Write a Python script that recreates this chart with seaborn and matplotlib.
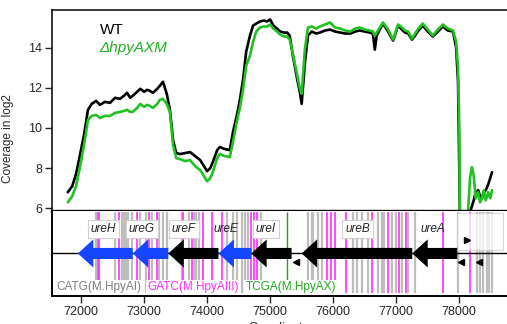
import numpy as np
import pandas as pd
import seaborn as sns
import matplotlib
matplotlib.use("Agg")
from matplotlib import pyplot as plt
from matplotlib.patches import Rectangle

# coverage (log2)
coord = [71790, 71860, 71920, 71980, 72050, 72110, 72170, 72240, 72300, 72380,
         72460, 72540, 72620, 72680, 72730, 72780, 72820, 72890, 72940, 73000,
         73050, 73090, 73140, 73210, 73250, 73300, 73360, 73410, 73460, 73510,
         73570, 73650, 73730, 73810, 73890, 73950, 74000, 74050, 74090, 74160,
         74200, 74280, 74360, 74410, 74470, 74520, 74570, 74620, 74680, 74730,
         74780, 74840, 74900, 74950, 75000, 75050, 75090, 75160, 75220, 75270,
         75310, 75360, 75430, 75470, 75500, 75550, 75600, 75660, 75730, 75790,
         75870, 75950, 76030, 76110, 76190, 76270, 76350, 76420, 76500, 76580,
         76630, 76660, 76690, 76740, 76790, 76870, 76950, 77030, 77090, 77140,
         77190, 77250, 77300, 77340, 77420, 77500, 77580, 77660, 77740, 77820,
         77900, 77950, 77980, 78000, 78010, 78090, 78140, 78170, 78200, 78230,
         78260, 78300, 78330, 78360, 78390, 78420, 78460, 78490, 78520]
wt = [6.8, 7.1, 7.7, 8.6, 9.7, 10.9, 11.2, 11.35, 11.15, 11.3,
      11.25, 11.5, 11.45, 11.6, 11.75, 11.5, 11.6, 11.8, 11.95, 11.8,
      11.9, 11.85, 11.75, 11.95, 12.1, 12.3, 11.7, 10.9, 9.4, 8.75,
      8.7, 8.75, 8.8, 8.6, 8.4, 8.1, 7.85, 8.0, 8.3, 8.9,
      9.05, 8.95, 8.9, 9.8, 10.6, 11.4, 12.4, 13.8, 14.6, 15.1,
      15.2, 15.3, 15.35, 15.3, 15.4, 15.1, 15.0, 14.8, 14.75, 14.75,
      14.6, 13.6, 12.4, 11.8, 11.2, 13.2, 14.6, 14.8, 14.7, 14.75,
      14.85, 14.9, 14.8, 14.75, 14.7, 14.7, 14.8, 14.85, 14.8, 14.75,
      14.7, 13.9, 14.6, 14.9, 15.2, 14.8, 14.35, 15.1, 14.9, 14.75,
      14.7, 14.4, 14.6, 14.8, 15.1, 14.8, 14.55, 14.8, 15.05, 14.85,
      14.8, 14.0, 12.3, 8.0, 5.5, 5.4, 5.5, 5.8, 6.1, 6.4,
      6.8, 6.9, 6.6, 6.5, 6.8, 6.9, 7.2, 7.5, 7.8]
mutant = [6.3, 6.6, 7.1, 8.0, 9.2, 10.4, 10.6, 10.65, 10.5, 10.6,
          10.6, 10.75, 10.8, 10.85, 10.9, 10.8, 10.8, 11.0, 11.2, 11.05,
          11.15, 11.1, 11.0, 11.2, 11.4, 11.45, 11.2, 10.8, 9.15, 8.5,
          8.45, 8.35, 8.4, 8.1, 7.9, 7.6, 7.35, 7.5, 7.8, 8.5,
          8.7, 8.6, 8.55, 9.3, 10.3, 11.0, 11.9, 13.1, 13.6, 14.3,
          14.8, 15.0, 15.05, 15.05, 15.15, 14.95, 14.85, 14.65, 14.55, 14.55,
          14.4, 13.7, 12.6, 12.0, 11.7, 13.9, 15.0, 15.05, 14.95, 15.05,
          15.15, 15.25, 15.0, 14.95, 14.85, 14.8, 14.95, 15.0, 14.9, 14.85,
          14.8, 14.6, 14.75, 15.0, 15.25, 14.9, 14.4, 15.15, 15.0, 14.85,
          14.8, 14.45, 14.7, 14.9, 15.2, 14.9, 14.6, 14.9, 15.15, 14.95,
          14.85, 14.3, 13.0, 10.0, 5.5, 5.4, 5.9, 7.5, 8.05, 7.6,
          6.5, 6.8, 6.3, 6.5, 6.9, 6.4, 6.8, 6.5, 6.9]

# methylation sites
catg_sites = [72238, 72539, 72645, 72682, 72714, 72750, 72814, 72936, 73026, 73121,
              73242, 73305, 73359, 73597, 73718, 73792, 73824, 73876, 74311, 74416,
              74479, 74549, 74601, 74649, 74855, 75605, 75659, 75684, 75764, 75817,
              76319, 76373, 76452, 76557, 76715, 76769, 76810, 76928, 76996, 77086,
              77181, 77297, 77979, 78276, 78328, 78381, 78434, 78476, 78514]
gatc_sites = [72265, 72290, 72603, 72883, 73078, 73201, 73622, 73756, 73930, 74082,
              74231, 74691, 74749, 74787, 75897, 75965, 76036, 76211, 76620, 76874,
              77048, 77147, 77737, 78170]
tcga_sites = [75275]

# genes (tip, tail), all on the minus strand
gene_names = ["ureH", "ureG", "ureF", "ureE", "ureI", "ureB", "ureA"]
gene_tip = [71950, 72820, 73385, 74180, 74700, 75500, 77254]
gene_tail = [72820, 73385, 74180, 74700, 75340, 77254, 77968]
gene_color = ["#1446ff", "#1446ff", "black", "#1446ff", "black", "black", "black"]
label_x = [72150, 72755, 73440, 74100, 74775, 76190, 77380]
label_box = [True, True, True, False, True, True, False]

left_marks = [75410, 78022, 78317]
right_marks = [78127]

sns.set_theme(style="ticks")
plt.rcParams['font.family'] = ['Liberation Sans', 'DejaVu Sans']

fig = plt.figure(figsize=(5.07, 3.24), dpi=100)
ax = fig.add_axes([0.1026, 0.349, 0.8974, 0.62])
ax2 = fig.add_axes([0.1026, 0.0864, 0.8974, 0.2626], sharex=ax)

df = pd.DataFrame({"coord": coord, "WT": wt, "mut": mutant})
sns.lineplot(data=df, x="coord", y="WT", ax=ax, color="black", lw=1.9)
sns.lineplot(data=df, x="coord", y="mut", ax=ax, color="#1fc21f", lw=1.9)

ax.set_xlim(71540, 78757)
ax.set_ylim(5.87, 15.87)
ax.set_yticks([6, 8, 10, 12, 14])
ax.set_ylabel("Coverage in log2", fontsize=8.5)
ax.yaxis.set_label_coords(-0.083, 0.36)
ax.set_xlabel("")
ax.tick_params(axis="y", direction="out", length=5, width=1, labelsize=9, pad=2)
ax.tick_params(axis="x", bottom=False, labelbottom=False)
ax.spines["right"].set_visible(False)
ax.spines["bottom"].set_linewidth(2.4)
for s in ["left", "top"]:
    ax.spines[s].set_linewidth(1.1)
    ax.spines[s].set_color("black")
ax.spines["bottom"].set_color("black")

ax.text(0.106, 0.90, "WT", transform=ax.transAxes, fontsize=11, va="center", color="black")
ax.text(0.103, 0.81, "\u0394hpyAXM", transform=ax.transAxes, fontsize=11, va="center",
        color="#22b022", style="italic")

# lower panel
ax2.set_ylim(0, 1)
ax2.vlines(catg_sites, 0.04, 0.985, color="#bdbdbd", lw=1.6, zorder=1)
ax2.vlines(gatc_sites, 0.04, 0.985, color="#ff3cff", lw=1.3, zorder=1)
ax2.vlines(tcga_sites, 0.04, 0.985, color="#229f22", lw=1.0, zorder=1)
ax2.axhline(0.5, color="black", lw=1.0, zorder=2)

ax2.add_patch(Rectangle((77960, 0.54), 730, 0.435, facecolor="white", alpha=0.75,
                        edgecolor="#cccccc", lw=0.8, zorder=2))

for tip, tail, c in zip(gene_tip, gene_tail, gene_color):
    ax2.arrow(tail, 0.5, tip - tail, 0, width=0.13, head_width=0.33, head_length=245,
              length_includes_head=True, color=c, lw=0, zorder=4)

for name, lx, boxed in zip(gene_names, label_x, label_box):
    bb = dict(boxstyle="square,pad=0.25", fc="white", ec="#d0d0d0", lw=0.8) if boxed else None
    ax2.text(lx, 0.79, name, style="italic", fontsize=8.5, ha="left", va="center",
             bbox=bb, zorder=5)

ax2.plot(left_marks, [0.40] * len(left_marks), ls="none", marker="<", color="black",
         ms=4, zorder=5)
ax2.plot(right_marks, [0.66] * len(right_marks), ls="none", marker=">", color="black",
         ms=4, zorder=5)

legend_items = [("CATG(M.HpyAI)", "#7f7f7f", 71605), ("GATC(M.HpyAIII)", "#ff2cff", 73058),
                ("TCGA(M.HpyAX)", "#1faa1f", 74612)]
for txt, c, lx in legend_items:
    ax2.text(lx, 0.10, txt, color=c, fontsize=8.5, ha="left", va="center", zorder=6,
             bbox=dict(boxstyle="square,pad=0.12", fc="white", ec="none"))

ax2.set_yticks([])
ax2.set_xticks([72000, 73000, 74000, 75000, 76000, 77000, 78000])
ax2.tick_params(axis="x", direction="out", length=5, width=1, labelsize=9, pad=2)
ax2.set_xlabel("Coordinate", fontsize=9, labelpad=3)
ax2.spines["right"].set_visible(False)
ax2.spines["top"].set_visible(False)
for s in ["left", "bottom"]:
    ax2.spines[s].set_linewidth(1.4)
    ax2.spines[s].set_color("black")

fig.savefig("out.png", dpi=100)
